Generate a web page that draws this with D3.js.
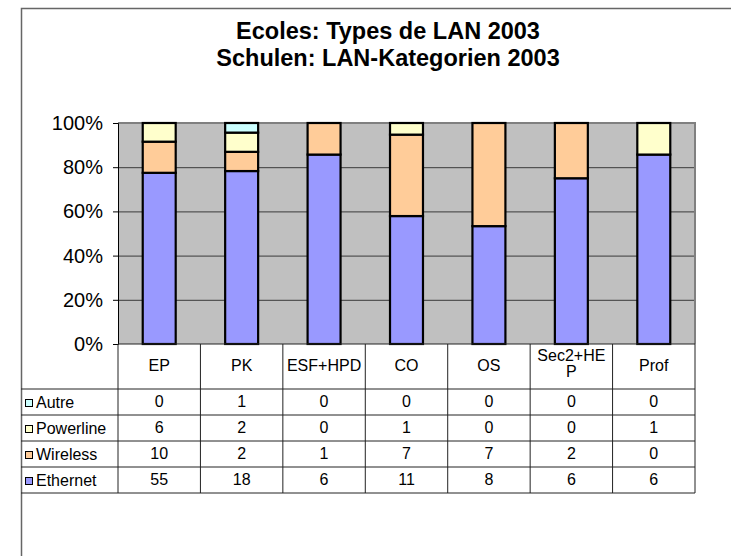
<!DOCTYPE html>
<html>
<head>
<meta charset="utf-8">
<script src="https://cdn.jsdelivr.net/npm/d3@7"></script>
<style>
  html, body { margin: 0; background: #fff; overflow: hidden; }
  svg { display: block; }
  svg text { font-family: "Liberation Sans", Arial, sans-serif; fill: #000; }
</style>
</head>
<body>
<div id="chart"></div>
<script>
const categories = ["EP", "PK", "ESF+HPD", "CO", "OS", "Sec2+HEP", "Prof"];
const headerLabels = [["EP"], ["PK"], ["ESF+HPD"], ["CO"], ["OS"], ["Sec2+HE", "P"], ["Prof"]];
const ethernet = [55, 18, 6, 11, 8, 6, 6];
const wireless = [10, 2, 1, 7, 7, 2, 0];
const powerline = [6, 2, 0, 1, 0, 0, 1];
const autre = [0, 1, 0, 0, 0, 0, 0];
const seriesNames = ["Ethernet", "Wireless", "Powerline", "Autre"];
const seriesColors = ["#9999FF", "#FFCC99", "#FFFFCC", "#CCFFFF"];
const yTicks = [0, 0.2, 0.4, 0.6, 0.8, 1];
const titleLines = ["Ecoles: Types de LAN 2003", "Schulen: LAN-Kategorien 2003"];

const width = 731, height = 556;
const plot = { left: 118, right: 695, top: 123, bottom: 344 };
const table = { left: 21, headerBottom: 389, rowH: 26 };

const svg = d3.select("#chart")
  .append("svg")
  .attr("width", width)
  .attr("height", height);

// chart frame: only left and top edges are inside the picture
svg.append("path")
  .attr("d", `M21.5,${height}V8.5H${width}`)
  .attr("fill", "none")
  .attr("stroke", "#666")
  .attr("stroke-width", 1.5);

// title
svg.append("text")
  .attr("text-anchor", "middle")
  .style("font-weight", "bold")
  .style("font-size", "23.5px")
  .selectAll("tspan")
  .data(titleLines)
  .join("tspan")
  .attr("x", 388)
  .attr("y", (d, i) => 39 + i * 27)
  .text(d => d);

// scales
const x = d3.scaleBand()
  .domain(categories)
  .range([plot.left, plot.right]);

const y = d3.scaleLinear()
  .domain([0, 1])
  .range([plot.bottom, plot.top]);

// plot background
svg.append("rect")
  .attr("x", plot.left)
  .attr("y", plot.top)
  .attr("width", plot.right - plot.left)
  .attr("height", plot.bottom - plot.top)
  .attr("fill", "#C0C0C0");

// gridlines
svg.append("g")
  .attr("class", "grid")
  .attr("transform", `translate(${plot.left},0)`)
  .call(d3.axisLeft(y).tickValues(yTicks.slice(1, -1)).tickSize(-(plot.right - plot.left)).tickFormat(""))
  .call(g => g.select(".domain").remove())
  .selectAll("line")
  .attr("stroke", "#3a3a3a")
  .attr("stroke-width", 1);

// plot border (top/right in gray)
svg.append("path")
  .attr("d", `M${plot.left},${plot.top}H${plot.right}V${plot.bottom}`)
  .attr("fill", "none")
  .attr("stroke", "#808080")
  .attr("stroke-width", 2);

// stacked 100% bars
const rows = categories.map((c, i) => ({
  cat: c,
  Ethernet: ethernet[i],
  Wireless: wireless[i],
  Powerline: powerline[i],
  Autre: autre[i]
}));

const stacked = d3.stack()
  .keys(seriesNames)
  .offset(d3.stackOffsetExpand)(rows);

const barW = x.bandwidth() / 2.5;

svg.append("g")
  .selectAll("g")
  .data(stacked)
  .join("g")
  .attr("fill", (d, i) => seriesColors[i])
  .selectAll("rect")
  .data(d => d.filter(s => s[1] - s[0] > 0))
  .join("rect")
  .attr("x", d => x(d.data.cat) + (x.bandwidth() - barW) / 2)
  .attr("y", d => y(d[1]))
  .attr("width", barW)
  .attr("height", d => y(d[0]) - y(d[1]))
  .attr("stroke", "#000")
  .attr("stroke-width", 2.2);

// y axis
const yAxis = svg.append("g")
  .attr("transform", `translate(${plot.left},0)`)
  .call(d3.axisLeft(y).tickValues(yTicks).tickFormat(d3.format(".0%")).tickSize(5).tickPadding(10));
yAxis.select(".domain").attr("stroke", "#000");
yAxis.selectAll(".tick line").attr("stroke", "#000");
yAxis.selectAll("text")
  .style("font-size", "20px")
  .attr("font-family", null);

// data table
const tableG = svg.append("g").attr("class", "data-table");
const cellX = d => x(d) + x.bandwidth() / 2;
const tableRows = [
  { name: "Autre", values: autre, color: seriesColors[3] },
  { name: "Powerline", values: powerline, color: seriesColors[2] },
  { name: "Wireless", values: wireless, color: seriesColors[1] },
  { name: "Ethernet", values: ethernet, color: seriesColors[0] }
];
const tableBottom = table.headerBottom + tableRows.length * table.rowH;
const lineColor = "#222";
const fs = "16px";

// horizontal lines
tableG.append("line")
  .attr("x1", plot.left).attr("x2", plot.right)
  .attr("y1", plot.bottom).attr("y2", plot.bottom)
  .attr("stroke", lineColor);
d3.range(tableRows.length + 1).forEach(i => {
  const yy = table.headerBottom + i * table.rowH;
  tableG.append("line")
    .attr("x1", table.left).attr("x2", plot.right)
    .attr("y1", yy).attr("y2", yy)
    .attr("stroke", lineColor);
});
// vertical lines
categories.forEach(c => {
  tableG.append("line")
    .attr("x1", x(c)).attr("x2", x(c))
    .attr("y1", plot.bottom).attr("y2", tableBottom)
    .attr("stroke", lineColor);
});
tableG.append("line")
  .attr("x1", plot.right).attr("x2", plot.right)
  .attr("y1", plot.bottom).attr("y2", tableBottom)
  .attr("stroke", lineColor);

// header labels
tableG.selectAll(".hdr")
  .data(categories)
  .join("text")
  .attr("class", "hdr")
  .attr("text-anchor", "middle")
  .style("font-size", fs)
  .each(function (d, i) {
    const lines = headerLabels[i];
    const t = d3.select(this);
    lines.forEach((ln, j) => {
      t.append("tspan")
        .attr("x", cellX(d))
        .attr("y", lines.length === 1 ? 371 : 361 + j * 16)
        .text(ln);
    });
  });

// rows
tableRows.forEach((r, ri) => {
  const top = table.headerBottom + ri * table.rowH;
  tableG.append("rect")
    .attr("x", 25.5).attr("y", top + 10.5)
    .attr("width", 7).attr("height", 7)
    .attr("fill", r.color)
    .attr("stroke", "#000");
  tableG.append("text")
    .attr("x", 36)
    .attr("y", top + 19)
    .style("font-size", fs)
    .text(r.name);
  tableG.selectAll(null)
    .data(r.values)
    .join("text")
    .attr("x", (d, i) => cellX(categories[i]))
    .attr("y", top + 18)
    .attr("text-anchor", "middle")
    .style("font-size", fs)
    .text(d => d);
});
</script>
</body>
</html>
